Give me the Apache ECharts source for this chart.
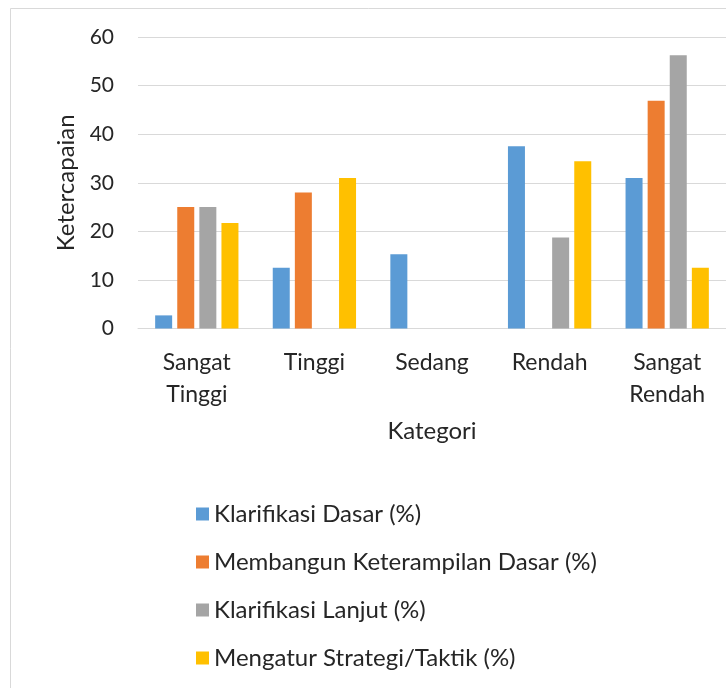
<!DOCTYPE html>
<html>
<head>
<meta charset="utf-8">
<script src="https://cdn.jsdelivr.net/npm/echarts@6/dist/echarts.min.js"></script>
<style>html,body{margin:0;padding:0;background:#fff;}#c{width:726px;height:688px;}</style>
</head>
<body>
<div id="c"></div>
<script>
var categories = ['Sangat\nTinggi', 'Tinggi', 'Sedang', 'Rendah', 'Sangat\nRendah'];
var seriesNames = ['Klarifikasi Dasar (%)', 'Membangun Keterampilan Dasar (%)', 'Klarifikasi Lanjut (%)', 'Mengatur Strategi/Taktik (%)'];
var klarifikasiDasar = [2.7, 12.5, 15.3, 37.5, 31];
var membangunKeterampilan = [25, 28, null, null, 46.9];
var klarifikasiLanjut = [25, null, null, 18.75, 56.25];
var mengaturStrategi = [21.7, 31, null, 34.4, 12.5];
var yTicks = {min: 0, max: 60, interval: 10};

var colors = ['#5B9BD5', '#ED7D31', '#A5A5A5', '#FFC000'];
var font = 'Lato, "Open Sans", sans-serif';
var textColor = '#262626';
var allData = [klarifikasiDasar, membangunKeterampilan, klarifikasiLanjut, mengaturStrategi];

var chart = echarts.init(document.getElementById('c'), null, {renderer: 'canvas'});
chart.setOption({
  animation: false,
  backgroundColor: '#ffffff',
  color: colors,
  graphic: [{
    type: 'rect', left: 8, top: 6, shape: {x: 0, y: 0, width: 760, height: 720},
    style: {fill: 'none', stroke: '#d9d9d9', lineWidth: 1}, silent: true, z: -10
  }],
  grid: {left: 138, top: 37, width: 600, height: 291.5},
  xAxis: {
    type: 'category', data: categories,
    name: 'Kategori', nameLocation: 'middle', nameGap: 91,
    nameTextStyle: {fontFamily: font, fontSize: 24, color: textColor},
    axisLine: {show: true, lineStyle: {color: '#d9d9d9', width: 1}},
    axisTick: {show: false},
    axisLabel: {fontFamily: font, fontSize: 23, color: textColor, lineHeight: 32, margin: 18, interval: 0}
  },
  yAxis: {
    type: 'value', min: yTicks.min, max: yTicks.max, interval: yTicks.interval,
    name: 'Ketercapaian', nameLocation: 'middle', nameGap: 60,
    nameTextStyle: {fontFamily: font, fontSize: 24, color: textColor},
    axisLine: {show: false}, axisTick: {show: false},
    axisLabel: {fontFamily: font, fontSize: 21, color: textColor, margin: 24},
    splitLine: {lineStyle: {color: '#d9d9d9', width: 1}}
  },
  legend: {
    orient: 'vertical', left: 191, top: 497, height: 185,
    itemWidth: 13, itemHeight: 13, itemGap: 24,
    icon: 'rect',
    textStyle: {fontFamily: font, fontSize: 24, color: textColor},
    data: seriesNames
  },
  series: seriesNames.map(function (n, i) {
    return {
      name: n, type: 'bar', data: allData[i],
      barWidth: 17, barGap: '30%',
      itemStyle: {color: colors[i]}
    };
  })
});
</script>
</body>
</html>
